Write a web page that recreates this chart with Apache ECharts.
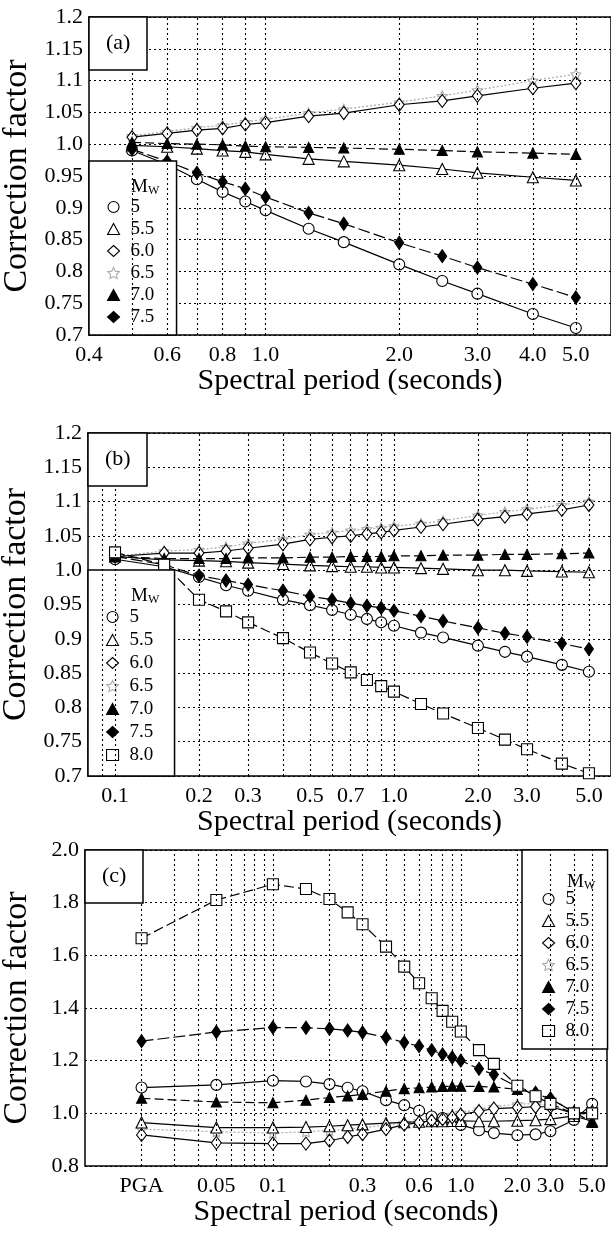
<!DOCTYPE html>
<html><head><meta charset="utf-8">
<script src="https://cdn.jsdelivr.net/npm/echarts@6/dist/echarts.min.js"></script>
<style>html,body{margin:0;padding:0;background:#fff;} #c{width:611px;height:1234px;}</style>
</head><body><div id="c"></div>
<script>
// ---------------- data ----------------
const magsA = ['5','5.5','6.0','6.5','7.0','7.5'];
const magsBC = ['5','5.5','6.0','6.5','7.0','7.5','8.0'];

const periodsA = [0.5,0.6,0.7,0.8,0.9,1.0,1.25,1.5,2.0,2.5,3.0,4.0,5.0];
const a5  = [0.990,0.968,0.945,0.925,0.910,0.896,0.867,0.846,0.811,0.785,0.765,0.733,0.711];
const a55 = [0.998,0.996,0.993,0.990,0.988,0.984,0.977,0.973,0.967,0.961,0.955,0.948,0.943];
const a60 = [1.011,1.017,1.022,1.025,1.031,1.034,1.044,1.049,1.062,1.068,1.076,1.088,1.096];
const a65 = [1.013,1.020,1.026,1.030,1.035,1.039,1.049,1.055,1.066,1.076,1.085,1.100,1.110];
const a70 = [1.003,1.001,1.000,0.999,0.997,0.996,0.995,0.994,0.992,0.990,0.988,0.986,0.984];
const a75 = [0.992,0.973,0.955,0.941,0.930,0.917,0.892,0.875,0.845,0.824,0.806,0.780,0.759];

const periodsB = [0.1,0.15,0.2,0.25,0.3,0.4,0.5,0.6,0.7,0.8,0.9,1.0,1.25,1.5,2.0,2.5,3.0,4.0,5.0];
const b5  = [1.016,1.005,0.990,0.978,0.970,0.957,0.949,0.942,0.935,0.929,0.924,0.919,0.909,0.902,0.890,0.881,0.874,0.862,0.852];
const b55 = [1.020,1.015,1.014,1.013,1.011,1.009,1.007,1.006,1.005,1.005,1.004,1.004,1.003,1.002,1.000,1.000,0.999,0.998,0.997];
const b60 = [1.020,1.025,1.025,1.028,1.032,1.038,1.045,1.048,1.050,1.053,1.055,1.058,1.063,1.067,1.074,1.078,1.082,1.088,1.095];
const b65 = [1.020,1.028,1.030,1.034,1.039,1.045,1.052,1.055,1.058,1.060,1.062,1.064,1.068,1.072,1.080,1.085,1.089,1.095,1.100];
const b70 = [1.020,1.017,1.017,1.017,1.018,1.018,1.019,1.019,1.020,1.020,1.020,1.021,1.021,1.022,1.022,1.023,1.023,1.024,1.025];
const b75 = [1.020,1.008,0.992,0.985,0.979,0.970,0.962,0.957,0.952,0.948,0.945,0.941,0.933,0.926,0.916,0.908,0.903,0.893,0.885];
const b80 = [1.026,1.008,0.957,0.940,0.924,0.901,0.880,0.864,0.851,0.840,0.831,0.823,0.805,0.791,0.770,0.753,0.739,0.718,0.704];

const periodsC = [0.02,0.05,0.1,0.15,0.2,0.25,0.3,0.4,0.5,0.6,0.7,0.8,0.9,1.0,1.25,1.5,2.0,2.5,3.0,4.0,5.0];
const c5  = [1.098,1.108,1.124,1.121,1.111,1.097,1.084,1.050,1.031,1.010,0.988,0.982,0.975,0.956,0.936,0.925,0.917,0.920,0.932,0.975,1.036];
const c55 = [0.965,0.946,0.946,0.948,0.951,0.955,0.958,0.963,0.966,0.968,0.970,0.970,0.971,0.971,0.970,0.970,0.972,0.974,0.978,0.990,0.970];
const c60 = [0.918,0.888,0.885,0.885,0.896,0.910,0.921,0.940,0.957,0.965,0.972,0.978,0.985,0.995,1.008,1.018,1.022,1.025,1.025,1.000,1.005];
const c65 = [0.940,0.930,0.925,0.930,0.935,0.940,0.945,0.955,0.965,0.972,0.980,0.988,0.995,1.003,1.015,1.025,1.035,1.037,1.030,1.002,1.000];
const c70 = [1.057,1.043,1.040,1.050,1.060,1.066,1.072,1.084,1.094,1.097,1.100,1.102,1.103,1.103,1.102,1.100,1.091,1.075,1.055,1.005,0.965];
const c75 = [1.274,1.309,1.326,1.325,1.321,1.315,1.307,1.288,1.269,1.255,1.240,1.224,1.212,1.200,1.169,1.147,1.100,1.078,1.057,1.003,0.995];
const c80 = [1.665,1.810,1.870,1.852,1.814,1.763,1.718,1.633,1.557,1.494,1.437,1.389,1.348,1.311,1.240,1.188,1.105,1.065,1.036,1.000,1.000];

const xTickValsA = [0.4,0.6,0.8,1.0,2.0,3.0,4.0,5.0];
const xTickTextA = ['0.4','0.6','0.8','1.0','2.0','3.0','4.0','5.0'];
const xTickValsB = [0.1,0.2,0.3,0.5,0.7,1.0,2.0,3.0,5.0];
const xTickTextB = ['0.1','0.2','0.3','0.5','0.7','1.0','2.0','3.0','5.0'];
const xTickValsC = [0.02,0.05,0.1,0.3,0.6,1.0,2.0,3.0,5.0];
const xTickTextC = ['PGA','0.05','0.1','0.3','0.6','1.0','2.0','3.0','5.0'];

const xGridA = [0.5,0.6,0.7,0.8,0.9,1,2,3,4,5];
const xGridB = [0.09,0.1,0.2,0.3,0.4,0.5,0.6,0.7,0.8,0.9,1,2,3,4,5];
const xGridC = [0.02,0.03,0.04,0.05,0.06,0.07,0.08,0.09,0.1,0.2,0.3,0.4,0.5,0.6,0.7,0.8,0.9,1,2,3,4,5];

// ---------------- styles ----------------
const FONT = '"Liberation Serif", "Times New Roman", "DejaVu Serif", serif';
const STAR = 'path://M0,-10 L2.9,-4 9.5,-3.1 4.8,1.5 5.9,8.1 0,5 -5.9,8.1 -4.8,1.5 -9.5,-3.1 -2.9,-4Z';
const styles = {
  '5':   {symbol:'circle',   size:11,     fill:'#fff', stroke:'#000', line:'#000', dash:'solid'},
  '5.5': {symbol:'triangle', size:11,     fill:'#fff', stroke:'#000', line:'#000', dash:'solid'},
  '6.0': {symbol:'diamond',  size:[10,13],fill:'#fff', stroke:'#000', line:'#000', dash:'solid'},
  '6.5': {symbol:STAR,       size:10,     fill:'#fff', stroke:'#aaa', line:'#aaa', dash:[2,2]},
  '7.0': {symbol:'triangle', size:10,     fill:'#000', stroke:'#000', line:'#000', dash:[9,4]},
  '7.5': {symbol:'diamond',  size:[9,13], fill:'#000', stroke:'#000', line:'#000', dash:[12,4]},
  '8.0': {symbol:'rect',     size:11,     fill:'#fff', stroke:'#000', line:'#000', dash:[10,4]}
};

function mkSeries(name, periods, values, idx) {
  const st = styles[name];
  return {
    type:'line', name, xAxisIndex:idx, yAxisIndex:idx,
    data: periods.map((p,i)=>[p, values[i]]),
    symbol: st.symbol, symbolSize: st.size, showAllSymbol:true,
    itemStyle:{color:st.fill, borderColor:st.stroke, borderWidth:1.1},
    lineStyle:{color:st.line, width:1.2, type:st.dash},
    silent:true, animation:false, z: (name==='6.5')?3:4
  };
}
function mkTickSeries(vals, texts, yMin, idx, gridVals) {
  return {
    type:'scatter', name:'_ticks'+idx, xAxisIndex:idx, yAxisIndex:idx,
    data: vals.map(v=>[v, yMin]), symbolSize:1,
    itemStyle:{color:'rgba(0,0,0,0)', opacity:1},
    clip:false, silent:true, animation:false, z:1,
    label:{show:true, position:'bottom', distance:9, opacity:1, formatter:p=>texts[p.dataIndex],
      fontFamily:FONT, fontSize:22, color:'#000'},
    labelLayout:{hideOverlap:false},
    markLine:{silent:true, symbol:['none','none'], animation:false, label:{show:false},
      lineStyle:{color:'#000', type:[2,3], width:1.1},
      emphasis:{disabled:true},
      data: gridVals.map(v=>({xAxis:v}))}
  };
}
function legendData(mags) {
  return mags.map(m=>{ const st=styles[m]; return {name:m, icon:st.symbol,
    itemStyle:{color:st.fill, borderColor:st.stroke, borderWidth:1.1}}; });
}
function mkLegend(mags, left, top, pad, gap) {
  return {orient:'vertical', left, top, padding:pad, itemWidth:12, itemHeight:11, itemGap:gap,
    backgroundColor:'#fff', borderColor:'#000', borderWidth:1.5, borderRadius:0,
    selectedMode:false, z:5,
    textStyle:{fontFamily:FONT, fontSize:19, color:'#000', lineHeight:20, width:26, padding:[0,0,0,6]},
    data: legendData(mags)};
}
function fmt2(v){ let s=String(+v.toFixed(2)); if(s.indexOf('.')<0) s+='.0'; return s; }
function mkY(idx, min, max, interval, formatter){
  return {type:'value', gridIndex:idx, min, max, interval,
    axisLine:{show:false}, axisTick:{show:false},
    axisLabel:{fontFamily:FONT, fontSize:22, color:'#000', margin:6, formatter},
    splitLine:{show:true, lineStyle:{color:'#000', type:[2,3], width:1.1}},
    name:'Correction factor', nameLocation:'middle', nameGap:51,
    nameTextStyle:{fontFamily:FONT, fontSize:34, color:'#000'}};
}
function mkX(idx, min, max){
  return {type:'log', logBase:10, gridIndex:idx, min, max,
    axisLine:{show:false}, axisTick:{show:false}, axisLabel:{show:false},
    splitLine:{show:false}, minorTick:{show:false}, minorSplitLine:{show:false},
    name:'Spectral period (seconds)', nameLocation:'middle', nameGap:31,
    nameTextStyle:{fontFamily:FONT, fontSize:30, color:'#000'}};
}
function boxTitle(text, left, top){
  return {text, left, top, padding:[15,17,16,17], backgroundColor:'#fff', borderColor:'#000',
    borderWidth:1.5, z:7, textStyle:{fontFamily:FONT, fontSize:22, fontWeight:'normal', color:'#000', lineHeight:22}};
}
function mwTitle(left, top){
  return {text:'M{s|W}', left, top, padding:0, z:8,
    textStyle:{fontFamily:FONT, fontSize:19, fontWeight:'normal', color:'#000', lineHeight:20,
      rich:{s:{fontFamily:FONT, fontSize:12, color:'#000', lineHeight:20, verticalAlign:'bottom', padding:[7,0,0,0]}}}};
}

const gridBase = {show:true, borderColor:'#000', borderWidth:1.5, backgroundColor:'transparent', containLabel:false, outerBoundsMode:'none'};

const series = [];
const valsA = [a5,a55,a60,a65,a70,a75];
magsA.forEach((m,i)=>series.push(mkSeries(m, periodsA, valsA[i], 0)));
const valsB = [b5,b55,b60,b65,b70,b75,b80];
magsBC.forEach((m,i)=>series.push(mkSeries(m, periodsB, valsB[i], 1)));
const valsC = [c5,c55,c60,c65,c70,c75,c80];
magsBC.forEach((m,i)=>series.push(mkSeries(m, periodsC, valsC[i], 2)));
series.push(mkTickSeries(xTickValsA, xTickTextA, 0.7, 0, xGridA));
series.push(mkTickSeries(xTickValsB, xTickTextB, 0.7, 1, xGridB));
series.push(mkTickSeries(xTickValsC, xTickTextC, 0.8, 2, xGridC));

const option = {
  backgroundColor:'#fff',
  animation:false,
  grid:[
    Object.assign({left:89, top:17, right:0, height:318}, gridBase),
    Object.assign({left:88, top:433, right:0, height:343}, gridBase),
    Object.assign({left:85, top:850, right:4, height:316}, gridBase)
  ],
  xAxis:[mkX(0,0.4,6), mkX(1,0.08,6), mkX(2,0.01,6)],
  yAxis:[mkY(0,0.7,1.2,0.05,fmt2), mkY(1,0.7,1.2,0.05,fmt2), mkY(2,0.8,2.0,0.2,v=>v.toFixed(1))],
  title:[boxTitle('(a)',89,17), boxTitle('(b)',88,433), boxTitle('(c)',85,850),
    mwTitle(131,177), mwTitle(131,586), mwTitle(567,872)],
  legend:[
    mkLegend(magsA, 89, 161, [36,20,8,18], 2),
    mkLegend(magsBC, 88, 570, [37,19,11,18], 3),
    mkLegend(magsBC, 522, 850, [39,16,8,20], 2)
  ],
  series
};
const chart = echarts.init(document.getElementById('c'), null, {renderer:'canvas'});
chart.setOption(option);
</script>
</body></html>
